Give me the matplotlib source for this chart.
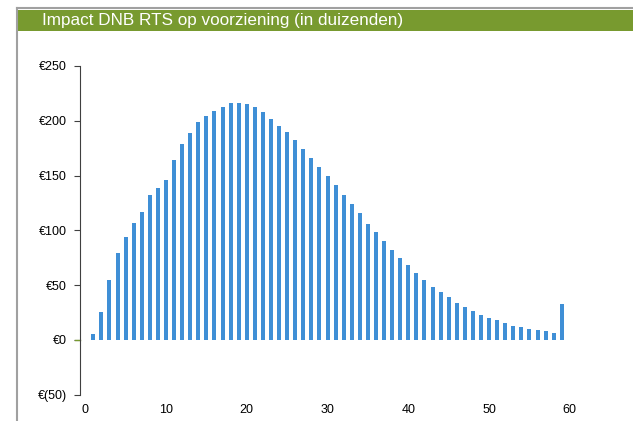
import matplotlib
matplotlib.use("Agg")
import matplotlib.pyplot as plt
from matplotlib.lines import Line2D
from matplotlib.patches import Rectangle

plt.rcParams['font.family'] = ['Liberation Sans', 'DejaVu Sans']

# years 1..59 and impact values (x 1000 EUR)
years = list(range(1, 60))
impact = [5.5, 25, 54.5, 79.5, 93.5, 107, 117, 132, 139, 145.5,
          164, 179, 189, 198.5, 204.5, 209, 212.5, 216, 216.5, 215,
          213, 208, 202, 195, 190, 182.5, 174, 166, 158, 149.5,
          141, 132, 124, 115.5, 106, 98, 90.5, 82, 75, 68,
          61, 55, 48.5, 43.3, 38.8, 34, 29.7, 25.8, 22.4, 20,
          17.6, 15.2, 13, 11.5, 10, 8.5, 7.6, 6.4, 32.5]
yticks = [-50, 0, 50, 100, 150, 200, 250]
ylabels = ['€(50)', '€0', '€50', '€100', '€150', '€200', '€250']
xticks = [0, 10, 20, 30, 40, 50, 60]
title = 'Impact DNB RTS op voorziening (in duizenden)'

fig = plt.figure(figsize=(6.33, 4.21), dpi=100)

# header band and frame lines
fig.add_artist(Rectangle((17 / 633, 1 - 31 / 421), 1, 21.5 / 421,
                         transform=fig.transFigure, color='#789A2F', lw=0))
fig.add_artist(Line2D([16.5 / 633, 16.5 / 633], [0, 1 - 8.3 / 421],
                      transform=fig.transFigure, color='#A0A0A0', lw=1.5))
fig.add_artist(Line2D([16.5 / 633, 1], [1 - 8.3 / 421, 1 - 8.3 / 421],
                      transform=fig.transFigure, color='#A0A0A0', lw=1.5))
fig.text(42.5 / 633, 1 - 20.5 / 421, title, color='white', fontsize=12.3,
         va='center', ha='left')

ax = fig.add_axes([80 / 633, 26.5 / 421, 506 / 633, 328.5 / 421])
ax.bar(years, impact, width=0.5, color='#3F8FD6')
ax.set_xlim(-0.65, 62)
ax.set_ylim(-50, 250)

ax.set_yticks(yticks)
ax.set_yticklabels(ylabels, fontsize=9)
ax.set_xticks(xticks)
ax.set_xticklabels([str(v) for v in xticks], fontsize=9)

for s in ['top', 'right', 'bottom']:
    ax.spines[s].set_visible(False)
ax.spines['left'].set_color('#404040')
ax.tick_params(axis='y', length=4, color='#404040', pad=5.5)
ax.tick_params(axis='x', length=0, pad=7)

# small green stub where the category axis crosses at zero
ax.plot([-1.3, -0.65], [0, 0], color='#789A2F', lw=1, clip_on=False)

fig.savefig('out.png', dpi=100)
